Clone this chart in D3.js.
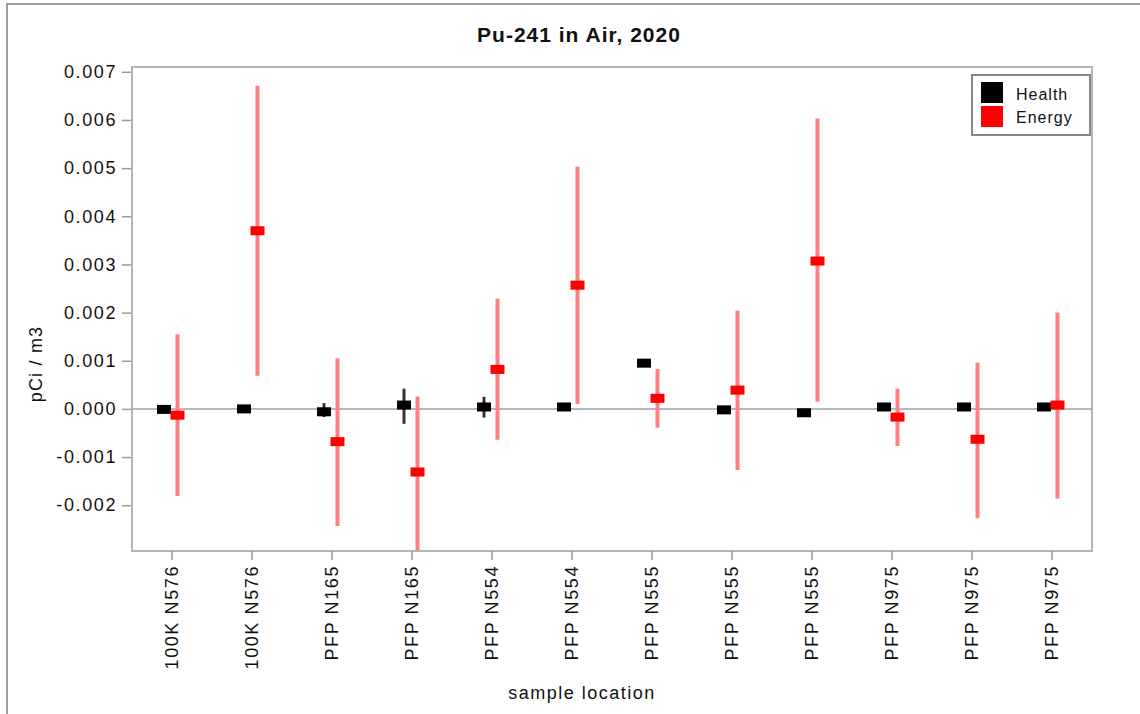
<!DOCTYPE html>
<html>
<head>
<meta charset="utf-8">
<script src="https://cdn.jsdelivr.net/npm/d3@7"></script>
<style>
  html, body { margin: 0; padding: 0; background: #fff; }
  svg text { font-family: "Liberation Sans", Arial, sans-serif; fill: #111; }
</style>
</head>
<body>
<svg id="chart" width="1140" height="714"></svg>
<script>
// ---- data ----
const categories = ["100K N576", "100K N576", "PFP N165", "PFP N165", "PFP N554", "PFP N554",
                    "PFP N555", "PFP N555", "PFP N555", "PFP N975", "PFP N975", "PFP N975"];
const healthValue = [-0.00001, 0.00000, -0.00006, 0.00008, 0.00004, 0.00004, 0.00095, -0.00002, -0.00008, 0.00004, 0.00004, 0.00004];
const healthLow   = [-0.00004, -0.00002, -0.00017, -0.00031, -0.00018, 0.00001, 0.00088, -0.00008, -0.00012, -0.00002, -0.00001, 0.00000];
const healthHigh  = [0.00002, 0.00002, 0.00012, 0.00042, 0.00025, 0.00007, 0.00099, 0.00003, -0.00004, 0.00007, 0.00007, 0.00006];
const energyValue = [-0.00013, 0.00370, -0.00068, -0.00131, 0.00082, 0.00257, 0.00022, 0.00039, 0.00307, -0.00017, -0.00063, 0.00008];
const energyLow   = [-0.00181, 0.00069, -0.00243, -0.00300, -0.00064, 0.00010, -0.00039, -0.00127, 0.00015, -0.00077, -0.00227, -0.00186];
const energyHigh  = [0.00155, 0.00671, 0.00105, 0.00026, 0.00229, 0.00503, 0.00083, 0.00204, 0.00603, 0.00042, 0.00096, 0.00200];
const yTicks = [0.007, 0.006, 0.005, 0.004, 0.003, 0.002, 0.001, 0.000, -0.001, -0.002];
const seriesNames = ["Health", "Energy"];
const seriesColors = ["#000000", "#ff0000"];
const barColors = ["#333333", "#ff8080"];

// ---- layout ----
const svg = d3.select("#chart");
const L = 132, R = 1092, T = 67, B = 551;

// outer border (only left & top visible)
svg.append("rect").attr("x", 7).attr("y", 4).attr("width", 1160).attr("height", 740)
  .attr("fill", "none").attr("stroke", "#a0a0a0").attr("stroke-width", 2);

const x = d3.scaleBand().domain(d3.range(categories.length)).range([L, R]);
const y = d3.scaleLinear().domain([-0.00293, 0.0071]).range([550, T]);

// title
svg.append("text").attr("x", 579).attr("y", 42).attr("text-anchor", "middle")
  .style("font-size", "21px").style("font-weight", "bold").style("letter-spacing", "1px")
  .text("Pu-241 in Air, 2020");

// plot frame
svg.append("rect").attr("x", L).attr("y", T).attr("width", R - L).attr("height", B - T)
  .attr("fill", "#fff").attr("stroke", "#b4b4b4").attr("stroke-width", 2);

// y axis
const yAxis = d3.axisLeft(y).tickValues(yTicks).tickFormat(d3.format(".3f")).tickSize(9).tickPadding(5);
const gy = svg.append("g").attr("transform", `translate(${L - 1},0)`).call(yAxis);
gy.select(".domain").remove();
gy.selectAll(".tick line").attr("stroke", "#999").attr("stroke-width", 1.5);
gy.selectAll(".tick text").style("font-size", "18px").style("letter-spacing", "1.6px")
  .text(d => d3.format(".3f")(d).replace("−", "-"));

// x axis
const xAxis = d3.axisBottom(x).tickFormat(i => categories[i]).tickSize(9).tickPadding(0);
const gx = svg.append("g").attr("transform", `translate(0,${B})`).call(xAxis);
gx.select(".domain").remove();
gx.selectAll(".tick line").attr("stroke", "#999").attr("stroke-width", 1.5);
gx.selectAll(".tick text")
  .attr("transform", "translate(0,14) rotate(-90)")
  .attr("text-anchor", "end").attr("x", 0).attr("y", 0).attr("dy", "0.36em")
  .style("font-size", "18px").style("letter-spacing", "1.6px");

// axis titles
svg.append("text").attr("transform", "translate(42,364) rotate(-90)").attr("text-anchor", "middle")
  .style("font-size", "18px").style("letter-spacing", "1.2px").text("pCi / m3");
svg.append("text").attr("x", 582).attr("y", 699).attr("text-anchor", "middle")
  .style("font-size", "18px").style("letter-spacing", "1.5px").text("sample location");

// clip
svg.append("clipPath").attr("id", "clip").append("rect")
  .attr("x", L).attr("y", T).attr("width", R - L).attr("height", B - T - 1);
const plot = svg.append("g").attr("clip-path", "url(#clip)");

// zero line
plot.append("line").attr("x1", L).attr("x2", R).attr("y1", y(0)).attr("y2", y(0))
  .attr("stroke", "#a0a0a0").attr("stroke-width", 1.5);

const center = i => x(i) + x.bandwidth() / 2;
const offsets = [-8, 5.5];
const series = [
  { v: healthValue, lo: healthLow, hi: healthHigh },
  { v: energyValue, lo: energyLow, hi: energyHigh }
];

series.forEach((s, k) => {
  const g = plot.append("g");
  g.selectAll("line.err").data(d3.range(categories.length)).join("line")
    .attr("class", "err")
    .attr("x1", i => center(i) + offsets[k]).attr("x2", i => center(i) + offsets[k])
    .attr("y1", i => y(s.hi[i])).attr("y2", i => y(s.lo[i]))
    .attr("stroke", barColors[k]).attr("stroke-width", k === 0 ? 3 : 4);
  g.selectAll("rect.mk").data(d3.range(categories.length)).join("rect")
    .attr("class", "mk")
    .attr("x", i => center(i) + offsets[k] - 7).attr("y", i => y(s.v[i]) - 4.5)
    .attr("width", 14).attr("height", 9)
    .attr("fill", seriesColors[k]);
});

// legend
const lg = svg.append("g");
lg.append("rect").attr("x", 972).attr("y", 75).attr("width", 118).attr("height", 60)
  .attr("fill", "#fff").attr("stroke", "#888").attr("stroke-width", 2);
seriesNames.forEach((n, k) => {
  lg.append("rect").attr("x", 981).attr("y", 82 + k * 24).attr("width", 22).attr("height", 21)
    .attr("fill", seriesColors[k]);
  lg.append("text").attr("x", 1016).attr("y", 100 + k * 23)
    .style("font-size", "16px").style("letter-spacing", "1px").text(n);
});
</script>
</body>
</html>
